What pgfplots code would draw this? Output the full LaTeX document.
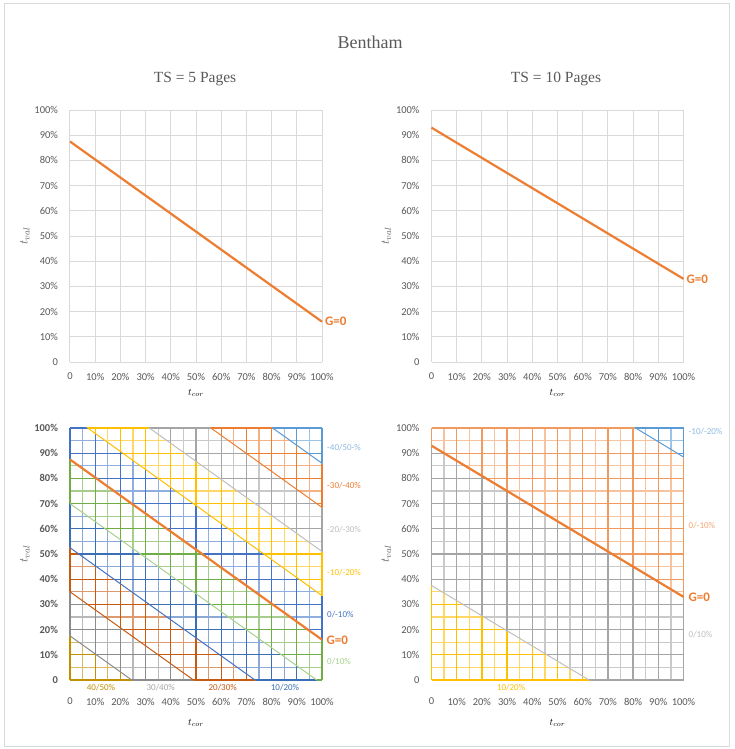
\documentclass[border=0pt]{standalone}
\usepackage{pgfplots}
\pgfplotsset{compat=1.18}
\usepackage{pgfplotstable}
\usepackage{fontspec}
\setmainfont{Liberation Serif}
\newfontfamily\carlito{Carlito}
\definecolor{txt}{HTML}{595959}
\definecolor{gridc}{HTML}{D9D9D9}
\definecolor{orangeG}{HTML}{ED7D31}
\definecolor{gold}{HTML}{BF9000}\definecolor{goldm}{HTML}{D6B960}
\definecolor{dgrey}{HTML}{8C8C8C}\definecolor{dgreym}{HTML}{B8B8B8}
\definecolor{brownA}{HTML}{C55A11}\definecolor{brownm}{HTML}{DC9A6E}
\definecolor{blueA}{HTML}{3A6FB5}\definecolor{blueAm}{HTML}{8AA9D4}
\definecolor{greenA}{HTML}{70AD47}\definecolor{greenm}{HTML}{A6CD8C}
\definecolor{blueB}{HTML}{4472C4}\definecolor{blueBm}{HTML}{90AEE0}
\definecolor{yellowA}{HTML}{FFC000}\definecolor{yellowm}{HTML}{FFD766}
\definecolor{greyB}{HTML}{A5A5A5}\definecolor{greyBm}{HTML}{C9C9C9}
\definecolor{greyL}{HTML}{BFBFBF}
\definecolor{orangeA}{HTML}{ED7D31}\definecolor{orangem}{HTML}{F4B183}
\definecolor{orangeR}{HTML}{F19A5F}\definecolor{orangeRm}{HTML}{F7C29E}
\definecolor{orangeT}{HTML}{F4A572}
\definecolor{lblue}{HTML}{5B9BD5}\definecolor{lbluem}{HTML}{9DC3E6}
\definecolor{lblueT}{HTML}{8DB9E2}
\definecolor{greenT}{HTML}{A9D18E}

\pgfplotstableread{
p one
0 1
0.1 1
0.2 1
0.3 1
0.4 1
0.5 1
0.6 1
0.7 1
0.8 1
0.9 1
1 1
}\maj
\pgfplotstableread{
p one
0.05 1
0.15 1
0.25 1
0.35 1
0.45 1
0.55 1
0.65 1
0.75 1
0.85 1
0.95 1
}\mnr

\pgfplotsset{
  bandax/.style={scale only axis, width=252pt, height=252pt,
    xmin=0, xmax=1, ymin=0, ymax=1, clip=false, hide axis, anchor=south west},
  panel/.style={scale only axis, width=252pt, height=252pt,
    xmin=0, xmax=1, ymin=0, ymax=1, clip=false, anchor=south west,
    xtick={0,0.1,0.2,0.3,0.4,0.5,0.6,0.7,0.8,0.9,1},
    ytick={0,0.1,0.2,0.3,0.4,0.5,0.6,0.7,0.8,0.9,1},
    xticklabels={0,10\%,20\%,30\%,40\%,50\%,60\%,70\%,80\%,90\%,100\%},
    yticklabels={0,10\%,20\%,30\%,40\%,50\%,60\%,70\%,80\%,90\%,100\%},
    tick label style={font=\carlito\fontsize{10.5}{12}\selectfont, text=txt},
    yticklabel style={xshift=-8.5pt},
    tick style={draw=none},
    axis line style={draw=none},
    every axis y label/.style={at={(axis description cs:-0.1786,0.5)}, rotate=90, anchor=center},
    label style={font=\fontsize{13}{15}\selectfont, text=txt},
    xlabel={$t_{cor}$}, ylabel={$t_{val}$},
  },
  toppanel/.style={panel,
    every axis x label/.style={at={(axis description cs:0.5,-0.123)}, anchor=center},
    xticklabel style={yshift=-7.5pt}},
  botpanel/.style={panel,
    every axis x label/.style={at={(axis description cs:0.5,-0.1706)}, anchor=center},
    xticklabel style={yshift=-14.5pt}},
}
\tikzset{
  bandlab/.style={font=\carlito\fontsize{9}{10}\selectfont, inner sep=0pt},
  glab/.style={font=\carlito\bfseries\fontsize{13}{14}\selectfont, text=orangeG, inner sep=0pt, anchor=west},
}

% #1 X0, #2 Y0 (axis origin), #3 L1, #4 R1, #5 L2, #6 R2, #7 major colour, #8 minor colour
\newcommand{\bandaxis}[8]{%
  \begin{scope}
  \clip[shift={(#1pt,#2pt)}, x=252pt, y=252pt] (-0.02,#3) -- (1.02,#4) -- (1.02,#6) -- (-0.02,#5) -- cycle;
  \begin{axis}[bandax, at={(#1pt,#2pt)}]
  \addplot[ycomb, draw=#8, line width=1.3pt, no markers] table[x=p,y=one]{\mnr};
  \addplot[xcomb, draw=#8, line width=1.3pt, no markers] table[x=one,y=p]{\mnr};
  \addplot[ycomb, draw=#7, line width=1.3pt, no markers] table[x=p,y=one]{\maj};
  \addplot[xcomb, draw=#7, line width=1.3pt, no markers] table[x=one,y=p]{\maj};
  \end{axis}
  \end{scope}
}

\begin{document}
\begin{tikzpicture}[x=1pt,y=1pt]
\fill[white] (0,0) rectangle (734,-749);
\draw[gridc, line width=0.8pt] (4.5,-3) rectangle (729.5,-746.5);
\node[font=\fontsize{18}{20}\selectfont, text=txt] at (370,-42) {Bentham};
\node[font=\fontsize{15.5}{17}\selectfont, text=txt] at (195,-79) {TS = 5 Pages};
\node[font=\fontsize{15.5}{17}\selectfont, text=txt] at (556,-79) {TS = 10 Pages};

% top left
\begin{axis}[toppanel, at={(70pt,-362pt)},
  grid=major, major grid style={draw=gridc, line width=1pt}]
\addplot[draw=orangeG, line width=2.2pt, no markers] coordinates {(0,0.875) (1,0.16)};
\end{axis}
\node[glab] at (325,-321.7) {G=0};

% top right
\begin{axis}[toppanel, at={(431.5pt,-362pt)},
  grid=major, major grid style={draw=gridc, line width=1pt}]
\addplot[draw=orangeG, line width=2.2pt, no markers] coordinates {(0,0.93) (1,0.33)};
\end{axis}
\node[glab] at (686.5,-278.8) {G=0};

% bottom left: coloured grid bands (boundaries t_val = b - 0.715 t_cor)
\bandaxis{70}{-680}{-1}{-1}{0.1893}{-0.5543}{gold}{goldm}
\bandaxis{70}{-680}{0.1893}{-0.5543}{0.3643}{-0.3793}{dgrey}{dgreym}
\bandaxis{70}{-680}{0.3643}{-0.3793}{0.5393}{-0.2043}{brownA}{brownm}
\bandaxis{70}{-680}{0.5393}{-0.2043}{0.7143}{-0.0293}{blueA}{blueAm}
\bandaxis{70}{-680}{0.7143}{-0.0293}{0.8893}{0.1457}{greenA}{greenm}
\bandaxis{70}{-680}{0.8893}{0.1457}{1.0643}{0.3207}{blueB}{blueBm}
\bandaxis{70}{-680}{1.0643}{0.3207}{1.2393}{0.4957}{yellowA}{yellowm}
\bandaxis{70}{-680}{1.2393}{0.4957}{1.4143}{0.6707}{greyB}{greyBm}
\bandaxis{70}{-680}{1.4143}{0.6707}{1.5893}{0.8457}{orangeA}{orangem}
\bandaxis{70}{-680}{1.5893}{0.8457}{3}{3}{lblue}{lbluem}

\begin{axis}[botpanel, at={(70pt,-680pt)},
  yticklabel style={font=\carlito\bfseries\fontsize{10.5}{12}\selectfont}]
\addplot[draw=dgrey, line width=1pt, no markers] coordinates {(0,0.175) (0.245,0)};
\addplot[draw=brownA, line width=1pt, no markers] coordinates {(0,0.35) (0.49,0)};
\addplot[draw=blueB, line width=1pt, no markers] coordinates {(0,0.525) (0.734,0)};
\addplot[draw=greenT, line width=1pt, no markers] coordinates {(0,0.70) (0.979,0)};
\addplot[draw=yellowA, line width=1pt, no markers] coordinates {(0.07,1) (1,0.335)};
\addplot[draw=greyL, line width=1pt, no markers] coordinates {(0.315,1) (1,0.51)};
\addplot[draw=orangeA, line width=1pt, no markers] coordinates {(0.559,1) (1,0.685)};
\addplot[draw=lblue, line width=1pt, no markers] coordinates {(0.804,1) (1,0.86)};
\addplot[draw=orangeG, line width=2.2pt, no markers] coordinates {(0,0.875) (1,0.16)};
\end{axis}
\node[glab] at (326.5,-639.9) {G=0};
\node[bandlab, anchor=west, text=lblueT] at (327,-447.7) {-40/50-\%};
\node[bandlab, anchor=west, text=orangeA] at (327,-485.2) {-30/-40\%};
\node[bandlab, anchor=west, text=greyL] at (327,-529.1) {-20/-30\%};
\node[bandlab, anchor=west, text=yellowA] at (327,-572.7) {-10/-20\%};
\node[bandlab, anchor=west, text=blueB] at (327,-614.2) {0/-10\%};
\node[bandlab, anchor=west, text=greenT] at (327,-661.1) {0/10\%};
\node[bandlab, text=gold] at (101,-687.6) {40/50\%};
\node[bandlab, text=greyB] at (160.7,-687.6) {30/40\%};
\node[bandlab, text=brownA] at (222.7,-687.6) {20/30\%};
\node[bandlab, text=blueA] at (285,-687.6) {10/20\%};

% bottom right: coloured grid bands (boundaries t_val = b - 0.6 t_cor)
\bandaxis{431.5}{-680}{-1}{-1}{0.387}{-0.237}{yellowA}{yellowm}
\bandaxis{431.5}{-680}{0.387}{-0.237}{0.942}{0.318}{greyB}{greyBm}
\bandaxis{431.5}{-680}{0.942}{0.318}{1.497}{0.873}{orangeR}{orangeRm}
\bandaxis{431.5}{-680}{1.497}{0.873}{3}{3}{lblue}{lbluem}

\begin{axis}[botpanel, at={(431.5pt,-680pt)}]
\addplot[draw=greyL, line width=1pt, no markers] coordinates {(0,0.375) (0.625,0)};
\addplot[draw=lblue, line width=1pt, no markers] coordinates {(0.81,1) (1,0.885)};
\addplot[draw=orangeG, line width=2.2pt, no markers] coordinates {(0,0.93) (1,0.33)};
\end{axis}
\node[glab] at (688.5,-597.1) {G=0};
\node[bandlab, anchor=west, text=lblueT] at (688.5,-431.3) {-10/-20\%};
\node[bandlab, anchor=west, text=orangeT] at (688.5,-525.8) {0/-10\%};
\node[bandlab, anchor=west, text=greyL] at (688.5,-634.9) {0/10\%};
\node[bandlab, text=yellowA] at (511.1,-687.6) {10/20\%};

\pgfresetboundingbox
\path[use as bounding box] (0,0) rectangle (734,-749);
\end{tikzpicture}
\end{document}
